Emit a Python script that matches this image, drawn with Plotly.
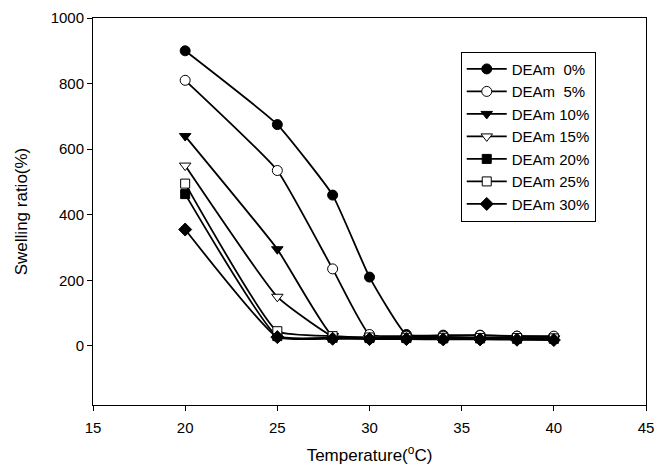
import plotly.graph_objects as go

temperature = [20, 25, 28, 30, 32, 34, 36, 38, 40]
series_names = ["DEAm  0%", "DEAm  5%", "DEAm 10%", "DEAm 15%", "DEAm 20%", "DEAm 25%", "DEAm 30%"]
deam_0 = [900, 675, 460, 210, 35, 33, 33, 30, 28]
deam_5 = [810, 535, 235, 35, 30, 30, 32, 30, 30]
deam_10 = [640, 295, 30, 25, 25, 25, 25, 24, 23]
deam_15 = [550, 150, 30, 25, 25, 25, 24, 24, 23]
deam_20 = [463, 30, 25, 24, 24, 23, 23, 22, 22]
deam_25 = [495, 45, 30, 26, 25, 25, 24, 24, 23]
deam_30 = [355, 27, 22, 21, 21, 20, 20, 19, 18]
series_values = [deam_0, deam_5, deam_10, deam_15, deam_20, deam_25, deam_30]

symbols = ["circle", "circle", "triangle-down", "triangle-down", "square", "square", "diamond"]
fills = ["black", "white", "black", "white", "black", "white", "black"]
sizes = [10, 10, 10, 10, 9, 9, 10]

fig = go.Figure()
for i in range(len(series_names)):
    fig.add_trace(go.Scatter(
        x=temperature, y=series_values[i], name=series_names[i],
        mode="lines+markers",
        line=dict(color="black", width=1.8, shape="spline", smoothing=0.4),
        marker=dict(symbol=symbols[i], size=sizes[i], color=fills[i],
                    line=dict(color="black", width=1)),
    ))

fig.update_layout(
    width=663, height=471,
    margin=dict(l=93, r=9, t=16, b=66),
    paper_bgcolor="white", plot_bgcolor="white",
    font=dict(family="Arial, Liberation Sans, sans-serif", color="black", size=15),
    showlegend=True,
    legend=dict(x=0.665, y=0.913, xanchor="left", yanchor="top",
                bordercolor="black", borderwidth=1, bgcolor="white",
                font=dict(size=15), tracegroupgap=0, itemwidth=40,
                traceorder="normal"),
    xaxis=dict(range=[15, 45], tickvals=[15, 20, 25, 30, 35, 40, 45],
               showline=True, linecolor="black", linewidth=1, mirror=True,
               ticks="outside", ticklen=5, tickcolor="black", showgrid=False, zeroline=False,
               ticklabelstandoff=4,
               title=dict(text="Temperature(<sup>o</sup>C)", font=dict(size=17), standoff=14)),
    yaxis=dict(range=[-180, 1000], tickvals=[0, 200, 400, 600, 800, 1000],
               showline=True, linecolor="black", linewidth=1, mirror=True,
               ticks="outside", ticklen=5, tickcolor="black", showgrid=False, zeroline=False,
               title=dict(text="Swelling ratio(%)", font=dict(size=17), standoff=18)),
)

fig.write_html("out.html")
